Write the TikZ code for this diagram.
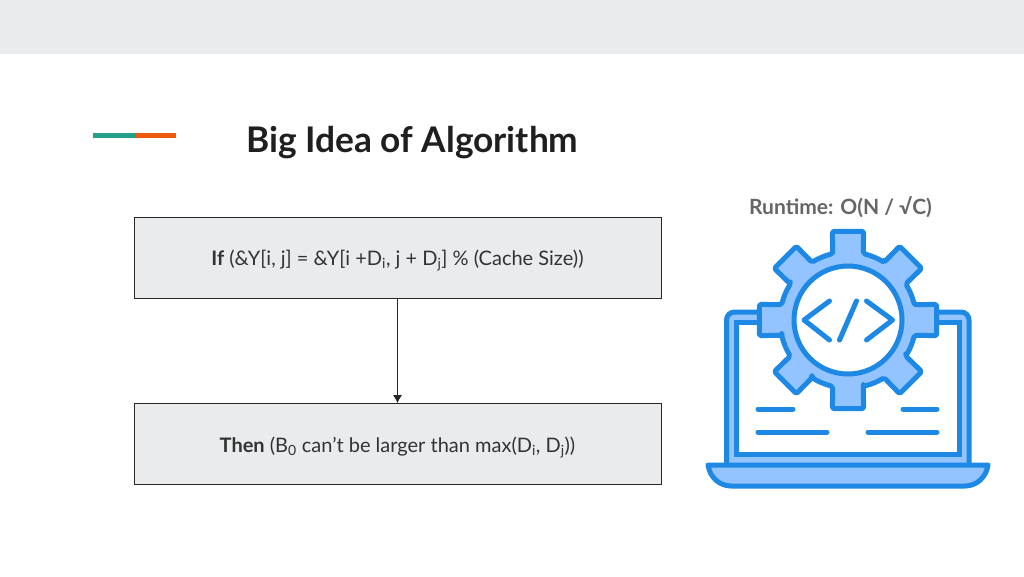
\documentclass[tikz,border=0pt]{standalone}
\usepackage{fontspec}
\usetikzlibrary{arrows.meta}
\setmainfont{Lato}
\definecolor{bandgray}{HTML}{E9EBED}
\definecolor{tealbar}{HTML}{26A08A}
\definecolor{orangebar}{HTML}{EF5B0C}
\definecolor{iconblue}{HTML}{1E88E5}
\definecolor{iconfill}{HTML}{93C4FF}
\tikzset{
	stepbox/.style={draw=black!85, fill=bandgray, line width=0.8pt, minimum width=527pt, minimum height=81pt, font=\fontsize{20}{24}\selectfont, text=black!80, text height=19pt, text depth=3pt},
	iconline/.style={draw=iconblue, line width=5pt, line cap=round, line join=round}
}
\begin{document}
\begin{tikzpicture}[x=1pt,y=-1pt]
		\useasboundingbox (0,0) rectangle (1024,576);
		\fill[bandgray] (0,0) rectangle (1024,54);
		\fill[tealbar] (93,133) rectangle (135,138);
		\fill[orangebar] (135,133) rectangle (176,138);
		\node (title) [anchor=west, inner sep=0pt, text=black!88, font=\fontsize{35.3}{42}\selectfont\bfseries] at (246,143) {Big Idea of Algorithm};
		\node (runtime) [inner sep=0pt, text=black!60, font=\fontsize{21}{25}\selectfont\bfseries] at (840.5,207) {Runtime: O(N / √C)};
		\node (ifbox) [stepbox] at (397.5,257.5) {\textbf{If} (\&Y[i, j] = \&Y[i +D\textsubscript{i}, j + D\textsubscript{j}] \% (Cache Size))};
		\node (thenbox) [stepbox, below of = ifbox, node distance=186.5pt] {\textbf{Then} (B\textsubscript{0} can’t be larger than max(D\textsubscript{i}, D\textsubscript{j}))};
		\draw[-{Latex[length=8pt,width=9pt]}, line width=0.8pt, black!85] (ifbox) -> (thenbox);
		% laptop
		\draw[iconline, fill=iconfill, rounded corners=8pt] (726.5,465) -- (726.5,312) -- (969,312) -- (969,465);
		\draw[iconline, fill=white, line join=miter] (736.5,322.5) rectangle (959,454);
		\draw[iconline, fill=iconfill] (708,465) -- (988,465) .. controls (986,478) and (976,486) .. (965,486) -- (731,486) .. controls (720,486) and (710,478) .. (708,465) -- cycle;
		\draw[iconline] (758,409) -- (793,409);
		\draw[iconline] (903,409) -- (937,409);
		\draw[iconline] (758,432) -- (827,432);
		\draw[iconline] (868,432) -- (937,432);
		% gear
		\begin{scope}[shift={(848,320)}]
		\draw[iconline, fill=iconfill, rounded corners=2pt] (-13:68)
			\foreach \a in {0,45,...,315} {
				-- (\a-13:68) -- (\a-10:90) -- (\a+10:90) -- (\a+13:68) arc[start angle=\a+13, end angle=\a+32, radius=68]
			} -- cycle;
		\draw[iconline, fill=white] (0,0) circle (54);
		\draw[iconline] (-18.5,-19) -- (-44,0) -- (-18.5,20);
		\draw[iconline] (18.5,-19) -- (44.5,0) -- (18.5,20);
		\draw[iconline] (8.5,-19) -- (-8.5,20);
		\end{scope}
\end{tikzpicture}
\end{document}
